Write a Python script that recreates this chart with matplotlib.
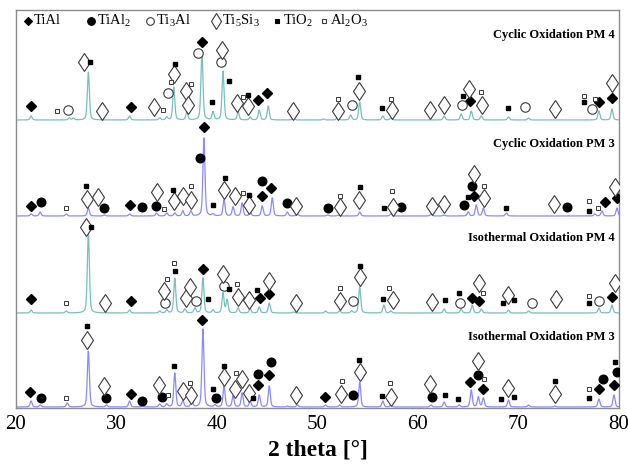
import numpy as np
import matplotlib
matplotlib.use("Agg")
import matplotlib.pyplot as plt

plt.rcParams['font.family'] = ['Liberation Serif', 'DejaVu Serif']
plt.rcParams['mathtext.fontset'] = 'custom'
plt.rcParams['mathtext.rm'] = 'Liberation Serif'
plt.rcParams['mathtext.bf'] = 'Liberation Serif:bold'

# ---------------- data ----------------
trace_names = ["Cyclic Oxidation PM 4", "Cyclic Oxidation PM 3",
               "Isothermal Oxidation PM 4", "Isothermal Oxidation PM 3"]
trace_offsets = [288, 192, 95, 1]

cyc4_pos = [21.5, 25.3, 25.7, 27.2, 31.3, 34.3, 35.0, 35.7, 37.0, 38.5, 39.6, 40.6, 42.1, 43.3,
            44.2, 45.1, 47.6, 50.6, 52.0, 53.3, 54.2, 56.5, 57.3, 62.6, 64.3, 65.3, 66.3, 69.0,
            71.0, 78.0, 79.3]
cyc4_int = [4, 2, 2, 48, 4, 2, 3, 33, 8, 69, 8, 49, 8, 3,
            10, 14, 2, 1, 3, 5, 18, 4, 2, 4, 6, 9, 4, 3,
            2, 9, 11]

cyc3_pos = [21.5, 22.4, 25.0, 27.2, 28.8, 31.3, 34.0, 35.0, 35.8, 36.6, 37.4, 38.7, 39.6, 40.7,
            41.6, 42.5, 43.3, 44.5, 45.5, 47.0, 48.0, 51.0, 52.1, 54.2, 57.3, 61.3, 62.6, 65.0,
            65.8, 66.5, 68.8, 77.6, 78.3, 79.8]
cyc3_int = [2, 4, 2, 8, 1, 2, 3, 3, 3, 5, 5, 78, 2, 16,
            9, 13, 4, 10, 18, 4, 2, 1, 1, 4, 2, 2, 1, 4,
            11, 8, 3, 2, 5, 8]

iso4_pos = [21.5, 25.0, 27.2, 31.3, 34.3, 35.0, 35.8, 36.8, 37.8, 38.6, 39.6, 40.6, 41.0, 42.1,
            43.3, 44.2, 45.2, 47.6, 50.8, 52.2, 53.4, 54.2, 56.6, 57.3, 62.6, 64.3, 65.4, 66.3,
            69.0, 71.0, 78.0, 79.3]
iso4_int = [3, 2, 80, 3, 2, 3, 35, 4, 5, 35, 3, 20, 13, 5,
            4, 6, 10, 1, 2, 2, 2, 26, 8, 2, 4, 4, 8, 4,
            3, 2, 5, 8]

iso3_pos = [21.5, 22.4, 25.1, 27.2, 29.0, 31.3, 32.6, 34.3, 35.0, 35.8, 36.6, 37.5, 38.6, 39.8,
            40.7, 41.6, 42.5, 43.3, 44.2, 45.2, 47.0, 48.0, 50.8, 52.2, 54.2, 56.5, 57.3, 61.3,
            62.6, 64.1, 65.3, 66.0, 66.5, 69.0, 71.0, 73.6, 78.0, 79.5]
iso3_int = [6, 2, 4, 56, 2, 6, 1, 3, 3, 34, 6, 7, 78, 2,
            21, 11, 14, 6, 12, 21, 1, 2, 2, 2, 25, 6, 2, 2,
            5, 2, 17, 10, 9, 7, 2, 1, 8, 12]

peak_positions = [cyc4_pos, cyc3_pos, iso4_pos, iso3_pos]
peak_intensities = [cyc4_int, cyc3_int, iso4_int, iso3_int]

# phase markers (2theta, plotted height incl. offset)
tial_x = [21.5, 31.4, 38.5, 44.1, 45.0, 65.2, 78.0, 79.3,
          21.5, 31.3, 38.7, 44.5, 45.4, 65.6, 78.6, 79.8,
          21.5, 31.4, 38.6, 44.3, 45.2, 65.4, 66.1, 79.3,
          21.4, 31.4, 38.5, 44.1, 45.2, 50.7, 65.2, 66.5, 78.0, 79.5]
tial_y = [302, 301, 366, 308, 315, 307, 306, 310,
          202, 203, 281, 212, 220, 212, 206, 210,
          109, 107, 139, 110, 114, 110, 107, 111,
          16, 14, 88, 23, 33, 11, 26, 19, 19, 23]

tial2_x = [22.5, 28.8, 32.5, 33.9, 38.3, 44.5, 47.0, 51.0, 58.3, 64.6, 65.4, 74.8,
           22.5, 29.0, 32.5, 34.5, 39.9, 44.1, 45.4, 53.5, 61.4, 66.0, 78.4, 79.8]
tial2_y = [206, 200, 201, 202, 250, 227, 205, 200, 201, 203, 222, 201,
           10, 10, 7, 11, 10, 34, 46, 13, 11, 33, 29, 36]

ti3al_x = [25.2, 35.1, 38.1, 40.4, 53.4, 64.4, 70.6, 77.3,
           34.8, 37.9, 40.7, 53.5, 64.2, 71.3, 78.0]
ti3al_y = [298, 315, 355, 346, 303, 303, 301, 299,
           105, 107, 122, 107, 105, 105, 107]

ti5si3_x = [26.8, 28.6, 33.7, 35.7, 36.9, 37.1, 40.5, 42.0, 43.1, 47.6, 52.0, 54.1, 57.4, 61.2,
            62.6, 65.1, 66.4, 73.6, 79.3,
            27.1, 28.2, 34.0, 35.7, 36.6, 37.4, 40.7, 41.8, 43.2, 47.9, 52.2, 54.1, 57.5, 61.4,
            62.6, 65.6, 66.6, 73.5, 79.6,
            27.0, 28.9, 34.7, 36.9, 37.3, 40.6, 42.1, 43.2, 45.2, 47.9, 52.2, 54.2, 57.5, 61.4,
            66.1, 69.0, 73.7, 79.6,
            27.1, 28.8, 34.2, 36.6, 37.4, 40.7, 41.8, 42.5, 43.2, 47.9, 52.3, 54.2, 57.3, 61.2,
            66.0, 69.0, 73.6]
ti5si3_y = [346, 297, 301, 334, 317, 303, 358, 305, 302, 297, 297, 317, 298, 298,
            303, 319, 303, 299, 325,
            209, 211, 216, 207, 212, 208, 218, 212, 203, 202, 201, 208, 201, 202,
            204, 234, 210, 204, 221,
            181, 105, 117, 110, 121, 134, 111, 108, 127, 105, 107, 131, 108, 106,
            125, 113, 109, 125,
            68, 22, 23, 17, 13, 31, 19, 29, 15, 13, 14, 36, 11, 24,
            47, 20, 14]

tio2_x = [27.4, 35.8, 39.5, 41.2, 43.1, 54.0, 56.4, 64.5, 69.0, 76.5,
          27.0, 35.6, 39.6, 40.8, 43.2, 54.2, 56.6, 65.0, 68.8, 77.0,
          27.5, 35.8, 39.1, 41.2, 44.0, 54.2, 56.5, 62.7, 64.1, 68.5, 69.6, 77.0,
          27.1, 35.7, 39.6, 40.7, 43.6, 54.1, 56.4, 62.7, 64.0, 68.3, 69.6, 73.6, 77.0, 79.6]
tio2_y = [346, 344, 306, 327, 313, 331, 300, 312, 300, 306,
          222, 218, 203, 230, 213, 221, 200, 211, 200, 197,
          181, 137, 109, 119, 118, 142, 109, 108, 115, 105, 108, 105,
          82, 42, 19, 42, 10, 48, 12, 13, 9, 9, 11, 27, 10, 46]

al2o3_x = [24.1, 34.6, 35.4, 37.4, 42.6, 52.0, 57.3, 66.3, 76.5, 77.6,
           25.0, 34.7, 37.4, 42.6, 52.2, 57.4, 66.6, 77.0, 77.9,
           25.0, 35.0, 35.7, 42.0, 52.2, 57.1, 66.5, 77.0,
           25.0, 35.1, 37.3, 41.9, 52.4, 57.2, 66.6, 77.0]
al2o3_y = [297, 298, 326, 324, 311, 309, 309, 316, 312, 309,
           200, 199, 222, 215, 212, 217, 222, 207, 200,
           105, 129, 145, 124, 120, 120, 115, 112,
           10, 13, 25, 35, 27, 25, 29, 19]

x_ticks = [20, 30, 40, 50, 60, 70, 80]

# ---------------- drawing ----------------
W, H = 628, 465
fig = plt.figure(figsize=(W / 100, H / 100), dpi=100)
ax = fig.add_axes([16 / W, (H - 408) / H, (619 - 16) / W, (408 - 10) / H])

teal = '#78bfbf'
blue = '#8a8aff'
colors = [teal, blue, teal, blue]

tt = np.linspace(20, 80, 6001)
hw = 0.12
for pos, inten, off, col in zip(peak_positions, peak_intensities, trace_offsets, colors):
    y = np.full_like(tt, float(off))
    for p, h in zip(pos, inten):
        lor = 1.0 / (1.0 + ((tt - p) / hw) ** 2)
        gau = np.exp(-np.log(2) * ((tt - p) / hw) ** 2)
        y += h * (0.4 * lor + 0.6 * gau)
    ax.plot(tt, y, color=col, lw=0.9, zorder=2)

ec = '#3a3a3a'
ax.plot(tial_x, tial_y, ls='none', marker='D', ms=4.6, color='black', zorder=3)
ax.plot(tial2_x, tial2_y, ls='none', marker='o', ms=6.2, color='black', zorder=3)
ax.plot(ti3al_x, ti3al_y, ls='none', marker='o', ms=6.8, mfc='white', mec=ec, mew=0.8, zorder=3)
ax.plot(ti5si3_x, ti5si3_y, ls='none', marker='d', ms=9.5, mfc='white', mec=ec, mew=0.8, zorder=3)
ax.plot(tio2_x, tio2_y, ls='none', marker='s', ms=2.8, color='black', zorder=3)
ax.plot(al2o3_x, al2o3_y, ls='none', marker='s', ms=2.8, mfc='white', mec=ec, mew=0.7, zorder=3)

# trace labels
label_y = [373, 264, 170, 71]
for name, ly in zip(trace_names, label_y):
    ax.text(79.6, ly, name, ha='right', va='center', fontsize=9, fontweight='bold')

# legend row (manual, as in reference)
leg_items = [('D', 4.0, 'black', 'black', 'TiAl'),
             ('o', 5.5, 'black', 'black', r'TiAl$_\mathregular{2}$'),
             ('o', 5.5, 'white', ec, r'Ti$_\mathregular{3}$Al'),
             ('d', 8.0, 'white', ec, r'Ti$_\mathregular{5}$Si$_\mathregular{3}$'),
             ('s', 2.8, 'black', 'black', r'TiO$_\mathregular{2}$'),
             ('s', 2.8, 'white', ec, r'Al$_\mathregular{2}$O$_\mathregular{3}$')]
leg_px = [28, 91, 150, 216, 277, 324]
for (mk, ms, fc, mc, txt), px in zip(leg_items, leg_px):
    fx = (px - 16) / 603
    fy = (408 - 21) / 398
    ax.plot([fx], [fy], transform=ax.transAxes, ls='none', marker=mk, ms=ms,
            mfc=fc, mec=mc, mew=0.8, clip_on=False)
    ax.text(fx + 6 / 603, fy, txt, transform=ax.transAxes, ha='left', va='center',
            fontsize=10.5)

ax.set_xlim(20, 80)
ax.set_ylim(0, 398)
ax.set_xticks(x_ticks)
ax.set_xticklabels([str(v) for v in x_ticks], fontsize=15)
ax.set_yticks([])
ax.tick_params(axis='x', length=0, pad=5)
for s in ax.spines.values():
    s.set_color('#8c8c8c')
    s.set_linewidth(1.0)
ax.set_xlabel('2 theta [°]', fontsize=17, fontweight='bold', labelpad=4)

fig.savefig('out.png', dpi=100)
